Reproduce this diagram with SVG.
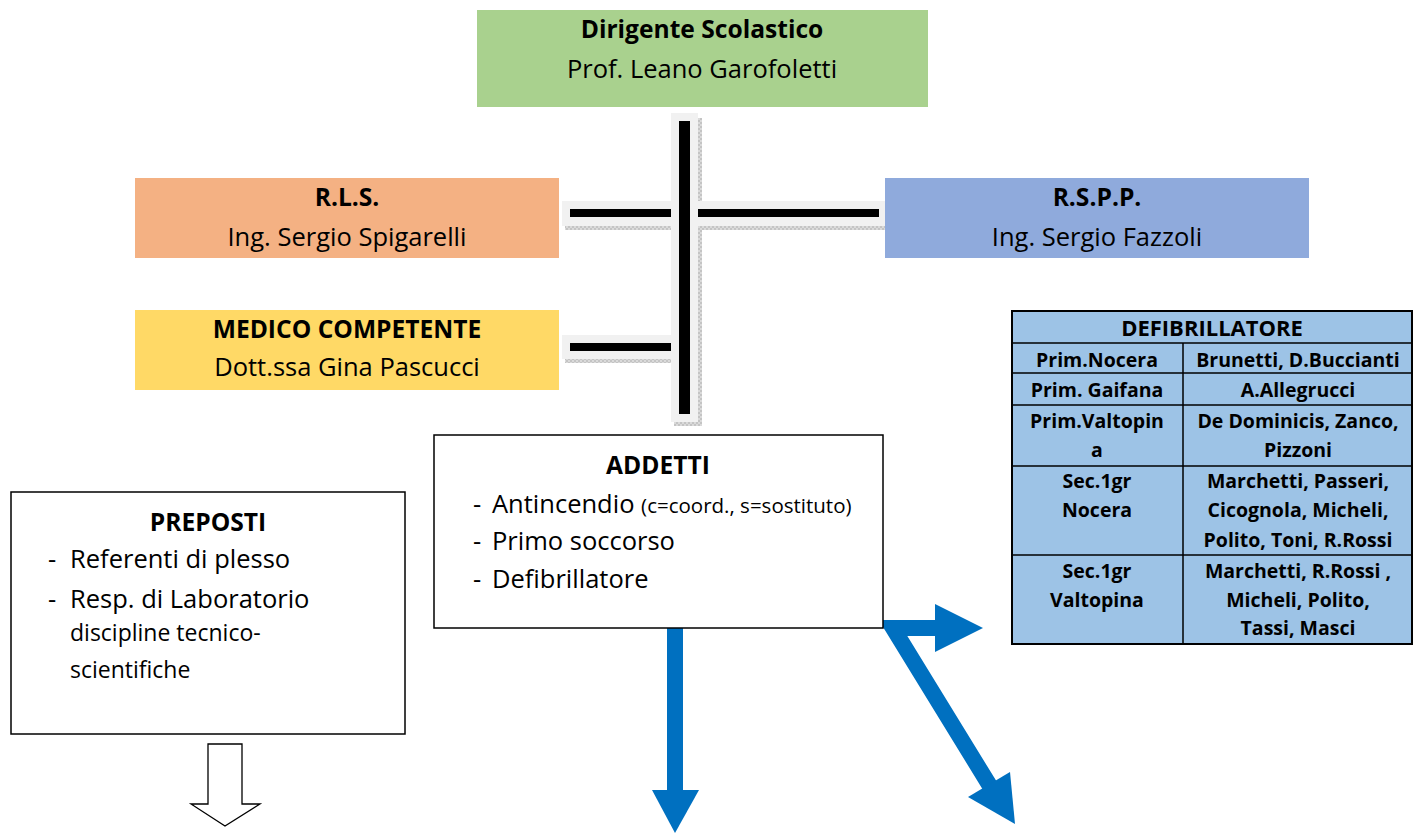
<svg xmlns="http://www.w3.org/2000/svg" width="1414" height="834" viewBox="0 0 1414 834">
<style>
text{font-family:"Open Sans","Liberation Sans",sans-serif;fill:#000}
.h{font-size:24.6px;font-weight:bold;text-anchor:middle}
.r{font-size:25.5px}
.c{text-anchor:middle}
.s{font-size:23px}
.xs{font-size:20.5px}
.tb{font-size:19.5px;font-weight:bold;text-anchor:middle}
.box{stroke:#000;stroke-width:1.5;fill:#fff}
.conbg{fill:#f1f1f1}
.bar{fill:#000}
.sh{fill:url(#hatch)}
.blue{fill:#0070c0}
</style>
<defs>
<pattern id="hatch" width="4" height="4" patternUnits="userSpaceOnUse">
<rect width="4" height="4" fill="#c4c4c4"/>
<rect width="2" height="2" fill="#dadada"/>
<rect x="2" y="2" width="2" height="2" fill="#dadada"/>
</pattern>
</defs>

<g id="connectors">
<!-- shadows -->
<rect class="sh" x="565" y="226" width="106" height="4"/>
<rect class="sh" x="698" y="226" width="190" height="4"/>
<rect class="sh" x="565" y="359" width="106" height="4"/>
<rect class="sh" x="698" y="118" width="4" height="308"/>
<rect class="sh" x="674" y="422" width="28" height="4"/>
<rect class="sh" x="886" y="205" width="3" height="25"/>
<!-- backgrounds -->
<rect class="conbg" x="562" y="201" width="324" height="25"/>
<rect class="conbg" x="562" y="335" width="112" height="24"/>
<rect class="conbg" x="671" y="113" width="27" height="309"/>
<!-- black bars -->
<rect class="bar" x="570" y="209" width="101" height="8"/>
<rect class="bar" x="698" y="209" width="181" height="8"/>
<rect class="bar" x="570" y="343" width="101" height="8"/>
<rect class="bar" x="679" y="121" width="11" height="293"/>
<!-- blue arrows -->
<rect class="blue" x="667" y="628" width="16" height="163"/>
<polygon class="blue" points="652,790 699,790 675,833"/>
<path d="M 990 786 L 893 628 L 936 628" fill="none" stroke="#0070c0" stroke-width="16" stroke-linejoin="miter"/>
<polygon class="blue" points="935,604 935,652 983,628"/>
<polygon class="blue" points="968,797 1010,772 1015,824"/>
<!-- hollow arrow -->
<polygon points="208,744 242,744 242,804 260,804 225,826 191,804 208,804" fill="#fff" stroke="#000" stroke-width="1.3"/>
</g>

<g id="dirigente">
<rect x="477" y="10" width="451" height="97" fill="#a9d18e"/>
<text class="h" x="702" y="38">Dirigente Scolastico</text>
<text class="r c" x="702" y="78">Prof. Leano Garofoletti</text>
</g>

<g id="rls">
<rect x="135" y="178" width="424" height="80" fill="#f4b183"/>
<text class="h" x="347" y="206">R.L.S.</text>
<text class="r c" x="347" y="246">Ing. Sergio Spigarelli</text>
</g>

<g id="rspp">
<rect x="885" y="178" width="424" height="80" fill="#8faadc"/>
<text class="h" x="1097" y="206">R.S.P.P.</text>
<text class="r c" x="1097" y="246">Ing. Sergio Fazzoli</text>
</g>

<g id="medico">
<rect x="135" y="310" width="424" height="80" fill="#ffd966"/>
<text class="h" x="347" y="338">MEDICO COMPETENTE</text>
<text class="r c" x="347" y="376">Dott.ssa Gina Pascucci</text>
</g>

<g id="addetti">
<rect class="box" x="434" y="435" width="449" height="193"/>
<text class="h" x="658" y="474">ADDETTI</text>
<text class="r" x="473" y="513">-</text>
<text class="r" x="492" y="513">Antincendio <tspan class="xs">(c=coord., s=sostituto)</tspan></text>
<text class="r" x="473" y="550">-</text>
<text class="r" x="492" y="550">Primo soccorso</text>
<text class="r" x="473" y="588">-</text>
<text class="r" x="492" y="588">Defibrillatore</text>
</g>

<g id="preposti">
<rect class="box" x="11" y="492" width="394" height="242"/>
<text class="h" x="208" y="531">PREPOSTI</text>
<text class="r" x="48" y="568">-</text>
<text class="r" x="70" y="568">Referenti di plesso</text>
<text class="r" x="48" y="608">-</text>
<text class="r" x="70" y="608">Resp. di Laboratorio</text>
<text class="s" x="70" y="641">discipline tecnico-</text>
<text class="s" x="70" y="678">scientifiche</text>
</g>

<g id="defibrillatore">
<rect x="1012" y="311" width="400" height="333" fill="#9dc3e6" stroke="#000" stroke-width="2"/>
<g stroke="#000" stroke-width="1.5">
<line x1="1012" y1="343" x2="1412" y2="343"/>
<line x1="1012" y1="373" x2="1412" y2="373"/>
<line x1="1012" y1="405" x2="1412" y2="405"/>
<line x1="1012" y1="466" x2="1412" y2="466"/>
<line x1="1012" y1="555" x2="1412" y2="555"/>
<line x1="1183" y1="343" x2="1183" y2="644"/>
</g>
<text class="tb" x="1212" y="336" style="font-size:22px">DEFIBRILLATORE</text>
<text class="tb" x="1097" y="367">Prim.Nocera</text>
<text class="tb" x="1298" y="367">Brunetti, D.Buccianti</text>
<text class="tb" x="1097" y="397">Prim. Gaifana</text>
<text class="tb" x="1298" y="397">A.Allegrucci</text>
<text class="tb" x="1097" y="428">Prim.Valtopin</text>
<text class="tb" x="1097" y="457">a</text>
<text class="tb" x="1298" y="428">De Dominicis, Zanco,</text>
<text class="tb" x="1298" y="457">Pizzoni</text>
<text class="tb" x="1097" y="488">Sec.1gr</text>
<text class="tb" x="1097" y="517">Nocera</text>
<text class="tb" x="1298" y="488">Marchetti, Passeri,</text>
<text class="tb" x="1298" y="517">Cicognola, Micheli,</text>
<text class="tb" x="1298" y="547">Polito, Toni, R.Rossi</text>
<text class="tb" x="1097" y="578">Sec.1gr</text>
<text class="tb" x="1097" y="607">Valtopina</text>
<text class="tb" x="1298" y="578">Marchetti, R.Rossi ,</text>
<text class="tb" x="1298" y="607">Micheli, Polito,</text>
<text class="tb" x="1298" y="635">Tassi, Masci</text>
</g>
</svg>
